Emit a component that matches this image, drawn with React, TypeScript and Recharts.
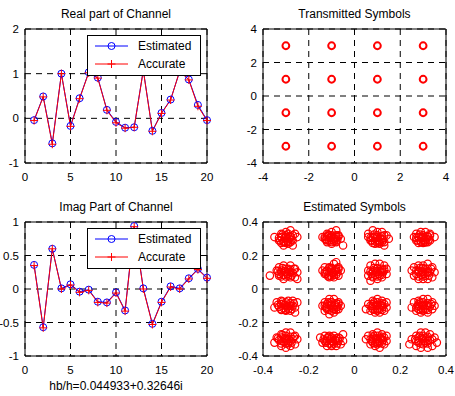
import React from 'react';
import {
  LineChart,
  Line,
  ScatterChart,
  Scatter,
  XAxis,
  YAxis,
  CartesianGrid,
  ReferenceArea,
  Legend,
} from 'recharts';

// channel taps 1..20
const taps = [1, 2, 3, 4, 5, 6, 7, 8, 9, 10, 11, 12, 13, 14, 15, 16, 17, 18, 19, 20];

const realEstimated = [-0.04, 0.49, -0.56, 1.0, -0.17, 0.45, 1.03, 0.91, 0.19, -0.08, -0.21, -0.2, 1.08, -0.28, 0.12, 0.42, 1.05, 0.87, 0.3, -0.04];
const realAccurate = [-0.05, 0.48, -0.58, 1.0, -0.18, 0.44, 1.02, 0.9, 0.18, -0.1, -0.22, -0.2, 1.07, -0.29, 0.11, 0.41, 1.06, 0.86, 0.27, -0.05];

const imagEstimated = [0.36, -0.57, 0.6, 0.01, 0.07, -0.04, -0.01, -0.19, -0.2, -0.05, -0.32, 0.94, 0.01, -0.52, -0.19, 0.04, 0.01, 0.16, 0.3, 0.17];
const imagAccurate = [0.35, -0.58, 0.6, 0.0, 0.06, -0.05, -0.02, -0.2, -0.21, -0.06, -0.33, 0.93, 0.0, -0.53, -0.2, 0.03, 0.0, 0.15, 0.29, 0.16];

const tapTicks = [0, 5, 10, 15, 20];
const realTicks = [-1, 0, 1, 2];
const imagTicks = [-1, -0.5, 0, 0.5, 1];
const txTicks = [-4, -2, 0, 2, 4];
const rxTicks = [-0.4, -0.2, 0, 0.2, 0.4];

// 16-QAM constellation
const transmittedSymbols: [number, number][] = [
  [-3, 3], [-1, 3], [1, 3], [3, 3],
  [-3, 1], [-1, 1], [1, 1], [3, 1],
  [-3, -1], [-1, -1], [1, -1], [3, -1],
  [-3, -3], [-1, -3], [1, -3], [3, -3],
];

// received symbols after equalisation
const rxRowTop: [number, number][] = [
  [-0.35, 0.31], [-0.32, 0.33], [-0.3, 0.34], [-0.28, 0.35], [-0.26, 0.33], [-0.25, 0.31], [-0.27, 0.29], [-0.29, 0.27],
  [-0.31, 0.28], [-0.33, 0.29], [-0.3, 0.31], [-0.28, 0.31], [-0.31, 0.26], [-0.27, 0.26], [-0.32, 0.31], [-0.29, 0.33],
  [-0.32, 0.31], [-0.3, 0.32], [-0.28, 0.315], [-0.275, 0.295], [-0.29, 0.28], [-0.31, 0.285], [-0.325, 0.29], [-0.315, 0.325],
  [-0.285, 0.3], [-0.305, 0.305], [-0.295, 0.29], [-0.27, 0.32], [-0.33, 0.305], [-0.3, 0.275], [-0.28, 0.28], [-0.32, 0.275],
  [-0.14, 0.31], [-0.12, 0.33], [-0.1, 0.34], [-0.08, 0.35], [-0.07, 0.32], [-0.06, 0.3], [-0.05, 0.26], [-0.08, 0.28],
  [-0.1, 0.27], [-0.12, 0.29], [-0.1, 0.31], [-0.09, 0.3], [-0.11, 0.32], [-0.13, 0.3], [-0.08, 0.32],
  [-0.12, 0.315], [-0.1, 0.32], [-0.08, 0.31], [-0.075, 0.295], [-0.09, 0.285], [-0.11, 0.29], [-0.125, 0.295], [-0.115, 0.325],
  [-0.085, 0.3], [-0.105, 0.305], [-0.095, 0.295], [-0.07, 0.315], [-0.13, 0.31], [-0.1, 0.28], [-0.08, 0.285], [-0.12, 0.28],
  [0.06, 0.33], [0.08, 0.35], [0.1, 0.34], [0.12, 0.34], [0.14, 0.32], [0.15, 0.3], [0.13, 0.28], [0.11, 0.27],
  [0.09, 0.27], [0.07, 0.29], [0.06, 0.31], [0.1, 0.31], [0.12, 0.3], [0.08, 0.31], [0.1, 0.29], [0.13, 0.26],
  [0.08, 0.31], [0.1, 0.32], [0.12, 0.315], [0.125, 0.295], [0.11, 0.28], [0.09, 0.285], [0.075, 0.29], [0.085, 0.325],
  [0.115, 0.3], [0.095, 0.305], [0.105, 0.29], [0.13, 0.32], [0.07, 0.305], [0.1, 0.275], [0.12, 0.28], [0.08, 0.275],
  [0.26, 0.31], [0.27, 0.33], [0.29, 0.34], [0.31, 0.34], [0.33, 0.33], [0.35, 0.31], [0.33, 0.29], [0.31, 0.28],
  [0.29, 0.28], [0.27, 0.29], [0.3, 0.31], [0.32, 0.31], [0.28, 0.31], [0.3, 0.29],
  [0.28, 0.31], [0.3, 0.32], [0.32, 0.315], [0.325, 0.295], [0.31, 0.28], [0.29, 0.285], [0.275, 0.29], [0.285, 0.325],
  [0.315, 0.3], [0.295, 0.305], [0.305, 0.29], [0.33, 0.32], [0.27, 0.305], [0.3, 0.275], [0.32, 0.28], [0.28, 0.275],
];

const rxRowUpper: [number, number][] = [
  [-0.37, 0.08], [-0.34, 0.11], [-0.33, 0.13], [-0.31, 0.14], [-0.28, 0.14], [-0.26, 0.12], [-0.25, 0.1], [-0.26, 0.07],
  [-0.28, 0.07], [-0.31, 0.06], [-0.33, 0.08], [-0.3, 0.1], [-0.28, 0.1], [-0.32, 0.1], [-0.29, 0.12], [-0.25, 0.06],
  [-0.32, 0.11], [-0.3, 0.12], [-0.28, 0.115], [-0.27, 0.095], [-0.29, 0.08], [-0.31, 0.085], [-0.33, 0.09], [-0.315, 0.125],
  [-0.285, 0.1], [-0.305, 0.105], [-0.295, 0.09], [-0.265, 0.12], [-0.335, 0.105], [-0.3, 0.075], [-0.275, 0.08], [-0.32, 0.075],
  [-0.14, 0.11], [-0.13, 0.13], [-0.11, 0.13], [-0.09, 0.15], [-0.08, 0.16], [-0.07, 0.13], [-0.06, 0.11], [-0.07, 0.08],
  [-0.09, 0.07], [-0.11, 0.07], [-0.13, 0.09], [-0.1, 0.1], [-0.08, 0.11], [-0.12, 0.11], [-0.1, 0.12],
  [-0.12, 0.105], [-0.1, 0.125], [-0.08, 0.12], [-0.075, 0.1], [-0.09, 0.085], [-0.11, 0.08], [-0.125, 0.09], [-0.11, 0.125],
  [-0.085, 0.105], [-0.105, 0.11], [-0.095, 0.095], [-0.07, 0.12], [-0.13, 0.1], [-0.1, 0.075], [-0.08, 0.085], [-0.115, 0.075],
  [0.06, 0.11], [0.07, 0.14], [0.09, 0.15], [0.11, 0.15], [0.13, 0.14], [0.14, 0.12], [0.14, 0.09], [0.12, 0.07],
  [0.1, 0.06], [0.08, 0.07], [0.06, 0.08], [0.1, 0.1], [0.12, 0.11], [0.08, 0.1], [0.1, 0.12], [0.07, 0.05],
  [0.08, 0.11], [0.1, 0.125], [0.12, 0.12], [0.125, 0.1], [0.11, 0.08], [0.09, 0.085], [0.075, 0.09], [0.085, 0.125],
  [0.115, 0.1], [0.095, 0.105], [0.105, 0.09], [0.13, 0.115], [0.07, 0.105], [0.1, 0.075], [0.12, 0.085], [0.08, 0.075],
  [0.25, 0.11], [0.26, 0.13], [0.28, 0.14], [0.3, 0.14], [0.32, 0.15], [0.34, 0.13], [0.35, 0.1], [0.34, 0.07],
  [0.32, 0.06], [0.3, 0.06], [0.28, 0.06], [0.26, 0.08], [0.3, 0.1], [0.32, 0.1], [0.28, 0.1], [0.31, 0.12],
  [0.28, 0.11], [0.3, 0.125], [0.32, 0.12], [0.33, 0.1], [0.31, 0.08], [0.29, 0.085], [0.27, 0.09], [0.285, 0.125],
  [0.315, 0.1], [0.295, 0.105], [0.305, 0.09], [0.335, 0.12], [0.27, 0.11], [0.3, 0.075], [0.325, 0.08], [0.28, 0.075],
];

const rxRowLower: [number, number][] = [
  [-0.35, -0.11], [-0.34, -0.08], [-0.32, -0.07], [-0.29, -0.07], [-0.27, -0.07], [-0.25, -0.08], [-0.26, -0.11], [-0.26, -0.14],
  [-0.28, -0.13], [-0.3, -0.13], [-0.32, -0.12], [-0.3, -0.1], [-0.28, -0.1], [-0.32, -0.09],
  [-0.32, -0.09], [-0.3, -0.08], [-0.28, -0.085], [-0.27, -0.1], [-0.29, -0.12], [-0.31, -0.115], [-0.33, -0.105], [-0.315, -0.075],
  [-0.285, -0.1], [-0.305, -0.095], [-0.295, -0.11], [-0.265, -0.085], [-0.335, -0.095], [-0.3, -0.125], [-0.275, -0.12], [-0.32, -0.125],
  [-0.14, -0.1], [-0.13, -0.08], [-0.11, -0.06], [-0.09, -0.06], [-0.07, -0.08], [-0.06, -0.1], [-0.07, -0.12], [-0.09, -0.14],
  [-0.11, -0.15], [-0.13, -0.13], [-0.1, -0.1], [-0.08, -0.11], [-0.12, -0.11], [-0.1, -0.08],
  [-0.12, -0.09], [-0.1, -0.08], [-0.08, -0.085], [-0.075, -0.105], [-0.09, -0.12], [-0.11, -0.125], [-0.125, -0.11], [-0.115, -0.08],
  [-0.085, -0.095], [-0.105, -0.095], [-0.095, -0.11], [-0.07, -0.09], [-0.13, -0.1], [-0.1, -0.13], [-0.08, -0.125], [-0.12, -0.12],
  [0.05, -0.12], [0.06, -0.09], [0.08, -0.07], [0.1, -0.06], [0.12, -0.07], [0.14, -0.08], [0.14, -0.11], [0.13, -0.13],
  [0.11, -0.14], [0.09, -0.14], [0.07, -0.13], [0.1, -0.1], [0.12, -0.1], [0.08, -0.1], [0.1, -0.12],
  [0.08, -0.09], [0.1, -0.08], [0.12, -0.085], [0.125, -0.105], [0.11, -0.12], [0.09, -0.125], [0.075, -0.11], [0.085, -0.08],
  [0.115, -0.095], [0.095, -0.095], [0.105, -0.11], [0.13, -0.09], [0.07, -0.1], [0.1, -0.13], [0.12, -0.125], [0.08, -0.12],
  [0.25, -0.11], [0.26, -0.08], [0.28, -0.07], [0.3, -0.06], [0.32, -0.06], [0.34, -0.08], [0.35, -0.1], [0.34, -0.12],
  [0.32, -0.14], [0.29, -0.14], [0.27, -0.13], [0.3, -0.1], [0.32, -0.1], [0.28, -0.1], [0.3, -0.12],
  [0.28, -0.09], [0.3, -0.08], [0.32, -0.085], [0.33, -0.105], [0.31, -0.12], [0.29, -0.125], [0.27, -0.11], [0.285, -0.08],
  [0.315, -0.095], [0.295, -0.095], [0.305, -0.11], [0.335, -0.09], [0.275, -0.1], [0.3, -0.13], [0.32, -0.125], [0.28, -0.12],
];

const rxRowBottom: [number, number][] = [
  [-0.35, -0.32], [-0.34, -0.29], [-0.32, -0.27], [-0.3, -0.26], [-0.28, -0.26], [-0.26, -0.28], [-0.25, -0.3], [-0.26, -0.33],
  [-0.28, -0.34], [-0.3, -0.35], [-0.32, -0.34], [-0.3, -0.3], [-0.28, -0.31], [-0.32, -0.31], [-0.29, -0.33],
  [-0.32, -0.29], [-0.3, -0.28], [-0.28, -0.285], [-0.27, -0.3], [-0.29, -0.32], [-0.31, -0.315], [-0.33, -0.305], [-0.315, -0.275],
  [-0.285, -0.3], [-0.305, -0.295], [-0.295, -0.31], [-0.265, -0.285], [-0.335, -0.295], [-0.3, -0.325], [-0.275, -0.32], [-0.32, -0.325],
  [-0.15, -0.29], [-0.13, -0.28], [-0.11, -0.28], [-0.09, -0.28], [-0.07, -0.29], [-0.05, -0.31], [-0.06, -0.33], [-0.08, -0.34],
  [-0.1, -0.34], [-0.12, -0.34], [-0.14, -0.32], [-0.1, -0.31], [-0.08, -0.31], [-0.12, -0.31], [-0.05, -0.27],
  [-0.12, -0.295], [-0.1, -0.29], [-0.08, -0.295], [-0.07, -0.31], [-0.09, -0.325], [-0.11, -0.325], [-0.13, -0.31], [-0.115, -0.285],
  [-0.085, -0.305], [-0.105, -0.3], [-0.095, -0.315], [-0.065, -0.295], [-0.135, -0.3], [-0.1, -0.33], [-0.075, -0.325], [-0.125, -0.32],
  [0.05, -0.3], [0.06, -0.28], [0.08, -0.27], [0.1, -0.26], [0.12, -0.27], [0.14, -0.28], [0.14, -0.31], [0.13, -0.33],
  [0.11, -0.35], [0.09, -0.34], [0.07, -0.33], [0.1, -0.3], [0.12, -0.3], [0.08, -0.3], [0.1, -0.32],
  [0.08, -0.29], [0.1, -0.28], [0.12, -0.285], [0.125, -0.305], [0.11, -0.32], [0.09, -0.325], [0.075, -0.31], [0.085, -0.28],
  [0.115, -0.295], [0.095, -0.295], [0.105, -0.31], [0.13, -0.29], [0.07, -0.3], [0.1, -0.33], [0.12, -0.325], [0.08, -0.32],
  [0.24, -0.33], [0.25, -0.3], [0.27, -0.28], [0.29, -0.26], [0.31, -0.26], [0.33, -0.27], [0.35, -0.29], [0.36, -0.32],
  [0.34, -0.34], [0.32, -0.35], [0.29, -0.35], [0.27, -0.34], [0.3, -0.3], [0.32, -0.31], [0.28, -0.31],
  [0.28, -0.29], [0.3, -0.28], [0.32, -0.285], [0.33, -0.305], [0.31, -0.32], [0.29, -0.325], [0.27, -0.31], [0.285, -0.28],
  [0.315, -0.295], [0.295, -0.295], [0.305, -0.31], [0.34, -0.3], [0.265, -0.3], [0.3, -0.33], [0.32, -0.325], [0.28, -0.32],
];

const estimatedSymbols = [...rxRowTop, ...rxRowUpper, ...rxRowLower, ...rxRowBottom];

const FONT = '"Liberation Sans", Arial, sans-serif';
const tickStyle = { fill: '#000', fontSize: 11.5, fontFamily: FONT };
const GRID_DASH = '6 5';

const CircleDot = (props: any) => {
  const { cx, cy, index } = props;
  if (cx == null || cy == null) return null;
  return <circle key={`c${index}`} cx={cx} cy={cy} r={3.5} fill="none" stroke="#0000ff" strokeWidth={1} />;
};

const PlusDot = (props: any) => {
  const { cx, cy, index } = props;
  if (cx == null || cy == null) return null;
  return (
    <path key={`p${index}`} d={`M${cx - 4},${cy}h8M${cx},${cy - 4}v8`} stroke="#ff0000" strokeWidth={1} fill="none" />
  );
};

const RingShape = (r: number, w: number) => (props: any) => {
  const { cx, cy } = props;
  return <circle cx={cx} cy={cy} r={r} fill="none" stroke="#ff0000" strokeWidth={w} />;
};

function LegendBox() {
  return (
    <div
      style={{
        width: 114,
        height: 41,
        boxSizing: 'border-box',
        border: '1px solid #000',
        background: '#fff',
        position: 'relative',
        fontFamily: FONT,
        fontSize: 12,
        color: '#000',
      }}
    >
      <svg width={112} height={39} style={{ position: 'absolute', left: 0, top: 0 }}>
        <line x1={7} x2={40} y1={10} y2={10} stroke="#0000ff" strokeWidth={1} />
        <circle cx={23.5} cy={10} r={3.5} fill="none" stroke="#0000ff" strokeWidth={1} />
        <line x1={7} x2={40} y1={28} y2={28} stroke="#ff0000" strokeWidth={1} />
        <path d="M19.5,28h8M23.5,24v8" stroke="#ff0000" strokeWidth={1} />
      </svg>
      <span style={{ position: 'absolute', left: 50, top: 2, lineHeight: '16px' }}>Estimated</span>
      <span style={{ position: 'absolute', left: 50, top: 20, lineHeight: '16px' }}>Accurate</span>
    </div>
  );
}

function Title({ text, left, width, top }: { text: string; left: number; width: number; top: number }) {
  return (
    <div
      style={{
        position: 'absolute',
        left,
        top,
        width,
        textAlign: 'center',
        fontFamily: FONT,
        fontSize: 12,
        lineHeight: '14px',
        color: '#000',
      }}
    >
      {text}
    </div>
  );
}

interface ChannelPlotProps {
  est: number[];
  acc: number[];
  yDomain: [number, number];
  yTicks: number[];
  top: number;
  marginTop: number;
  legendTop: number;
  xLabel?: string;
}

function ChannelPlot({ est, acc, yDomain, yTicks, top, marginTop, legendTop, xLabel }: ChannelPlotProps) {
  const data = taps.map((n, i) => ({ n, est: est[i], acc: acc[i] }));
  const bottomSpace = 198 - marginTop - 134;
  return (
    <div style={{ position: 'absolute', left: 0, top }}>
      <LineChart
        width={228}
        height={198}
        data={data}
        margin={{ top: marginTop, right: 21, left: 0, bottom: xLabel ? 0 : bottomSpace - 20 }}
      >
        <CartesianGrid stroke="#000" strokeDasharray={GRID_DASH} />
        <XAxis
          type="number"
          dataKey="n"
          domain={[0, 20]}
          ticks={tapTicks}
          axisLine={false}
          tickLine={false}
          tickSize={8}
          height={xLabel ? bottomSpace : 20}
          tick={tickStyle}
          label={
            xLabel
              ? { value: xLabel, position: 'insideBottom', offset: 6, fill: '#000', fontSize: 12, fontFamily: FONT }
              : undefined
          }
        />
        <YAxis
          type="number"
          domain={yDomain}
          ticks={yTicks}
          axisLine={false}
          tickLine={false}
          tickSize={4}
          width={25}
          tick={tickStyle}
        />
        <ReferenceArea x1={0} x2={20} y1={yDomain[0]} y2={yDomain[1]} fill="none" stroke="#000" strokeWidth={1} />
        <Line dataKey="est" stroke="#0000ff" strokeWidth={1} dot={CircleDot} isAnimationActive={false} />
        <Line dataKey="acc" stroke="#ff0000" strokeWidth={1} dot={PlusDot} isAnimationActive={false} />
        <Legend
          layout="vertical"
          align="center"
          verticalAlign="middle"
          wrapperStyle={{ left: 87, top: legendTop, width: 114, height: 41 }}
          content={() => <LegendBox />}
        />
      </LineChart>
    </div>
  );
}

interface SymbolPlotProps {
  points: [number, number][];
  lim: number;
  ticks: number[];
  top: number;
  marginTop: number;
  r: number;
  w: number;
  yWidth: number;
  yTickSize: number;
}

function SymbolPlot({ points, lim, ticks, top, marginTop, r, w, yWidth, yTickSize }: SymbolPlotProps) {
  const data = points.map(([x, y]) => ({ x, y }));
  return (
    <div style={{ position: 'absolute', left: 263 - yWidth, top }}>
      <ScatterChart
        width={455 - 263 + yWidth}
        height={198}
        margin={{ top: marginTop, right: 9, left: 0, bottom: 198 - marginTop - 134 - 20 }}
      >
        <CartesianGrid stroke="#000" strokeDasharray={GRID_DASH} />
        <XAxis
          type="number"
          dataKey="x"
          domain={[-lim, lim]}
          ticks={ticks}
          axisLine={false}
          tickLine={false}
          tickSize={8}
          height={20}
          tick={tickStyle}
        />
        <YAxis
          type="number"
          dataKey="y"
          domain={[-lim, lim]}
          ticks={ticks}
          axisLine={false}
          tickLine={false}
          tickSize={yTickSize}
          width={yWidth}
          tick={tickStyle}
        />
        <ReferenceArea x1={-lim} x2={lim} y1={-lim} y2={lim} fill="none" stroke="#000" strokeWidth={1} />
        <Scatter data={data} shape={RingShape(r, w)} isAnimationActive={false} />
      </ScatterChart>
    </div>
  );
}

export default function App() {
  return (
    <div
      style={{
        position: 'absolute',
        left: 0,
        top: 0,
        width: 455,
        height: 396,
        background: '#fff',
        fontFamily: FONT,
        overflow: 'hidden',
      }}
    >
      <Title text="Real part of Channel" left={25} width={182} top={7} />
      <Title text="Transmitted Symbols" left={263} width={183} top={7} />
      <Title text="Imag Part of Channel" left={25} width={182} top={200} />
      <Title text="Estimated Symbols" left={263} width={183} top={200} />

      <ChannelPlot
        est={realEstimated}
        acc={realAccurate}
        yDomain={[-1, 2]}
        yTicks={realTicks}
        top={0}
        marginTop={29}
        legendTop={35}
      />
      <ChannelPlot
        est={imagEstimated}
        acc={imagAccurate}
        yDomain={[-1, 1]}
        yTicks={imagTicks}
        top={198}
        marginTop={24}
        legendTop={30}
        xLabel="hb/h=0.044933+0.32646i"
      />
      <SymbolPlot
        points={transmittedSymbols}
        lim={4}
        ticks={txTicks}
        top={0}
        marginTop={29}
        r={3.4}
        w={2}
        yWidth={30}
        yTickSize={4}
      />
      <SymbolPlot
        points={estimatedSymbols}
        lim={0.4}
        ticks={rxTicks}
        top={198}
        marginTop={24}
        r={3.7}
        w={1.2}
        yWidth={40}
        yTickSize={3}
      />
    </div>
  );
}
